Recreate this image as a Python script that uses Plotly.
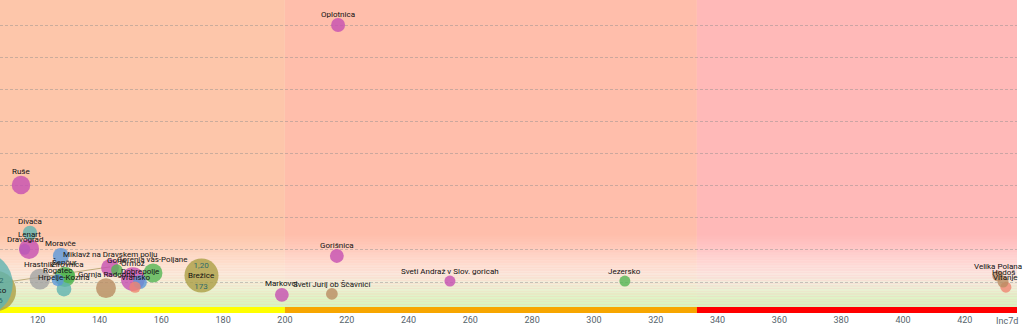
import numpy as np
import plotly.graph_objects as go

# --- data --------------------------------------------------------------
names = [
    "Krško", "Koper", "Brežice", "Ormož", "Hrastnik", "Šenčur",
    "Lenart", "Gornja Radgona", "Gorenja vas-Poljane", "Ruše",
    "Miklavž na Dravskem polju", "Moravče", "Hrpelje-Kozina", "Žirovnica",
    "Divača", "Oplotnica", "Dobrepolje", "Markovci", "Gorišnica", "Rogatec",
    "Sveti Jurij ob Ščavnici", "Gorje", "Vransko", "Vitanje", "Dravograd",
    "Velika Polana", "Sveti Andraž v Slov. goricah", "Jezersko", "Hodoš",
]
inc7d = [
    106.5, 101.6, 173.0, 150.8, 120.7, 128.8,
    117.2, 142.1, 157.3, 114.6,
    143.4, 127.5, 128.5, 129.8,
    117.5, 217.2, 153.1, 199.0, 216.8, 126.5,
    215.2, 145.6, 151.5, 433.3, 115.8,
    430.7, 253.4, 310.0, 432.4,
]
ratio = [
    0.72, 0.94, 1.20, 1.09, 1.09, 1.16,
    2.03, 0.81, 1.28, 4.02,
    1.44, 1.81, 0.78, 1.19,
    2.53, 9.00, 1.00, 0.60, 1.81, 1.06,
    0.63, 1.37, 0.84, 0.84, 2.02,
    1.19, 1.03, 1.03, 1.00,
]
population = [
    34000, 86000, 24400, 12000, 9000, 8800,
    8500, 8400, 7600, 7200,
    6700, 5400, 4600, 4400,
    4300, 4100, 4000, 4000, 4000, 3100,
    2900, 2800, 2700, 2300, 2000,
    1400, 1200, 650, 350,
]
region = [
    "Posavska", "Obalno-kraška", "Posavska", "Podravska", "Zasavska", "Gorenjska",
    "Podravska", "Pomurska", "Gorenjska", "Podravska",
    "Podravska", "Osrednjeslovenska", "Obalno-kraška", "Gorenjska",
    "Obalno-kraška", "Podravska", "Osrednjeslovenska", "Podravska", "Podravska",
    "Osrednjeslovenska",
    "Pomurska", "Gorenjska", "Savinjska", "Savinjska", "Koroška",
    "Pomurska", "Podravska", "Gorenjska", "Pomurska",
]

# previous-week trail of one municipality
trail_x = [103.0, 143.4]
trail_y = [0.90, 1.47]

# incidence thresholds for the coloured zones
zone_edges = [200, 333.33]
x_ticks = [120, 140, 160, 180, 200, 220, 240, 260, 280, 300, 320, 340, 360, 380, 400, 420]

# --- styling -----------------------------------------------------------
region_colors = {
    "Podravska": "#c64fb1",
    "Gorenjska": "#52b552",
    "Obalno-kraška": "#5fb3b0",
    "Osrednjeslovenska": "#5a96d8",
    "Zasavska": "#a3a3a3",
    "Pomurska": "#b98c62",
    "Posavska": "#ab9f45",
    "Savinjska": "#ef8670",
    "Koroška": "#8a7fd0",
}
x_range = [107.8, 436.9]
y_range = [0.035, 9.78]
SIZEREF = 4.59
SIZEMIN = 5.5          # minimum marker radius in px
BIG = 20000            # bubbles above this get their label inside
label_font = dict(family="Roboto", size=8, color="#111111")


def big_label(n, xv, yv):
    val = f"{yv:.2f}".replace(".", ",")
    return (f"<span style='color:#2e6a6a'>{val}</span><br>{n}<br>"
            f"<span style='color:#2e6a6a'>{xv:.0f}</span>")


sizes = np.sqrt(population)
radius = np.maximum(sizes / (2 * SIZEREF), SIZEMIN)
inside = [x_range[0] <= xv <= x_range[1] for xv in inc7d]

# labels of points beyond the axis range stay on the trace (clipped with it)
trace_text = []
trace_pos = []
for n, xv, yv, p, ok in zip(names, inc7d, ratio, population, inside):
    if ok:
        trace_text.append("")
        trace_pos.append("top center")
    elif p > BIG:
        trace_text.append(big_label(n, xv, yv))
        trace_pos.append("middle center")
    else:
        trace_text.append(n)
        trace_pos.append("top center")

fig = go.Figure()

fig.add_trace(go.Scatter(
    x=trail_x, y=trail_y, mode="lines",
    line=dict(color="rgba(170,150,90,0.75)", width=1),
    hoverinfo="skip", showlegend=False,
))

# smaller municipalities drawn first so that Lenart sits above Dravograd
order = list(range(len(names)))
order.remove(names.index("Dravograd"))
order.insert(names.index("Lenart"), names.index("Dravograd"))


def pick(seq):
    return [seq[i] for i in order]


fig.add_trace(go.Scatter(
    x=pick(inc7d), y=pick(ratio), mode="markers+text",
    text=pick(trace_text), textposition=pick(trace_pos), textfont=label_font,
    customdata=pick(names),
    marker=dict(
        size=pick(list(sizes)), sizemode="diameter", sizeref=SIZEREF, sizemin=SIZEMIN,
        color=[region_colors[r] for r in pick(region)], opacity=0.8, line=dict(width=0),
    ),
    cliponaxis=True, showlegend=False,
    hovertemplate="%{customdata}<br>%{x:.0f}<br>%{y:.2f}<extra></extra>",
))

# name labels for the points within the range
annotations = []
for i in order:
    n, xv, yv, p, r, ok = names[i], inc7d[i], ratio[i], population[i], radius[i], inside[i]
    if not ok:
        continue
    if p > BIG:
        annotations.append(dict(x=xv, y=yv, xref="x", yref="y", text=big_label(n, xv, yv),
                                showarrow=False, font=label_font, yanchor="middle"))
    else:
        annotations.append(dict(x=xv, y=yv, xref="x", yref="y", text=n, showarrow=False,
                                font=label_font, yanchor="middle", yshift=float(r) + 4))

annotations.append(dict(text="Inc7d", xref="paper", yref="paper", x=0.99, y=0,
                        xanchor="center", yanchor="top", yshift=-1, showarrow=False,
                        font=dict(family="Roboto", size=9, color="#56636b")))

shapes = []
# zone backgrounds
zone_fill = ["#fdc6aa", "#ffbeab", "#ffb9b8"]
bounds = [x_range[0]] + zone_edges + [x_range[1]]
for i, c in enumerate(zone_fill):
    shapes.append(dict(type="rect", xref="x", yref="paper", x0=bounds[i], x1=bounds[i + 1],
                       y0=0, y1=1, fillcolor=c, line=dict(width=0), layer="below"))

# soft green-to-white fade near the bottom
stops = [
    (0.00, (212, 245, 188, 1.00)),
    (0.50, (220, 246, 198, 0.95)),
    (0.90, (237, 247, 224, 0.85)),
    (1.30, (250, 247, 240, 0.70)),
    (1.70, (255, 250, 246, 0.45)),
    (2.10, (255, 255, 255, 0.18)),
    (2.50, (255, 255, 255, 0.00)),
]
sy = [s[0] for s in stops]
edges = np.linspace(0, 2.5, 51)
for a, b in zip(edges[:-1], edges[1:]):
    m = (a + b) / 2
    col = [np.interp(m, sy, [s[1][k] for s in stops]) for k in range(4)]
    shapes.append(dict(type="rect", xref="paper", yref="y", x0=0, x1=1, y0=a, y1=b,
                       fillcolor=f"rgba({col[0]:.0f},{col[1]:.0f},{col[2]:.0f},{col[3]:.3f})",
                       line=dict(width=0), layer="below"))

# threshold bar along the axis
bar_fill = ["#ffff00", "#f7a600", "#ff0000"]
for i, c in enumerate(bar_fill):
    shapes.append(dict(type="rect", xref="x", yref="paper", x0=bounds[i], x1=bounds[i + 1],
                       y0=0, y1=0.019, fillcolor=c, line=dict(width=0), layer="below"))

fig.update_layout(
    width=1024, height=327,
    margin=dict(l=0, r=7, t=0, b=14),
    paper_bgcolor="white", plot_bgcolor="white",
    shapes=shapes, annotations=annotations,
    showlegend=False,
    font=dict(family="Roboto"),
)
fig.update_xaxes(
    range=x_range, tickvals=x_ticks, ticktext=[str(t) for t in x_ticks],
    showgrid=False, zeroline=False, showline=False, ticks="",
    tickfont=dict(family="Roboto", size=9, color="#56636b"),
)
fig.update_yaxes(
    range=y_range, dtick=1, tick0=0, showticklabels=False, zeroline=False,
    showgrid=True, gridcolor="rgba(140,140,140,0.45)", griddash="3px,2px", gridwidth=1,
)

fig.write_html("out.html")
